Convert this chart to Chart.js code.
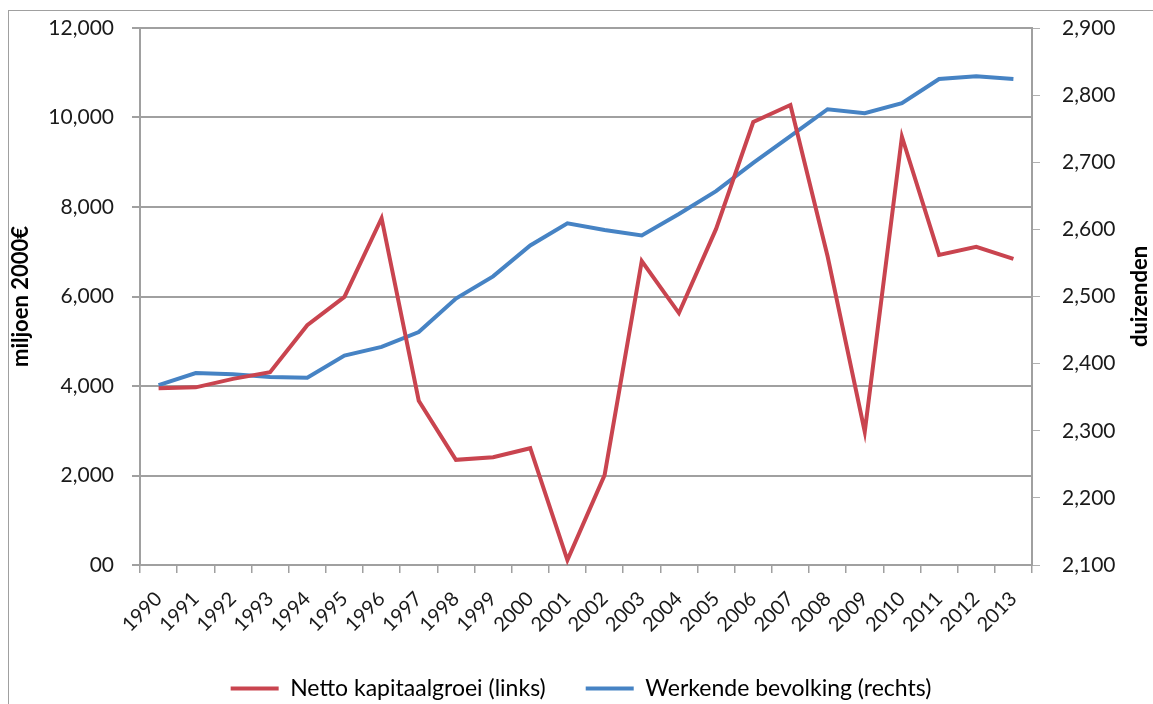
<!DOCTYPE html>
<html>
<head>
<meta charset="utf-8">
<script src="https://cdn.jsdelivr.net/npm/chart.js@4/dist/chart.umd.min.js"></script>
<style>
  body { margin: 0; background: #fff; }
  #frame {
    position: absolute; left: 8px; top: 10px;
    width: 1144px; height: 693px;
    border-left: 1px solid #a0a0a0; border-top: 1px solid #a0a0a0;
  }
</style>
</head>
<body>
<div id="frame"><canvas id="chart" width="1144" height="693"></canvas></div>
<script>
var years = ["1990","1991","1992","1993","1994","1995","1996","1997","1998","1999","2000","2001",
             "2002","2003","2004","2005","2006","2007","2008","2009","2010","2011","2012","2013"];
// miljoen 2000€ (linker as)
var kapitaalgroei = [3950, 3970, 4160, 4310, 5360, 5990, 7750, 3670, 2350, 2410, 2610, 110,
                     2010, 6790, 5630, 7510, 9900, 10280, 6900, 2980, 9570, 6930, 7110, 6840];
// duizenden (rechter as)
var werkendeBevolking = [2368, 2386, 2384, 2380, 2379, 2412, 2425, 2447, 2497, 2530, 2576, 2609,
                         2599, 2591, 2623, 2657, 2699, 2739, 2779, 2773, 2788, 2824, 2828, 2824];
var seriesNames = ["Netto kapitaalgroei (links)", "Werkende bevolking (rechts)"];
var leftTitle = "miljoen 2000€";
var rightTitle = "duizenden";

document.addEventListener("DOMContentLoaded", function () {
  Chart.defaults.font.family = "Lato";
  Chart.defaults.color = "#1a1a1a";

  var axisTitles = {
    id: "axisTitles",
    afterDraw: function (chart) {
      var ctx = chart.ctx;
      var area = chart.chartArea;
      var cy = (area.top + area.bottom) / 2;
      ctx.save();
      ctx.font = "bold 22px Lato";
      ctx.fillStyle = "#000";
      ctx.textAlign = "center";
      ctx.textBaseline = "middle";
      [[12, leftTitle], [1131, rightTitle]].forEach(function (t) {
        ctx.save();
        ctx.translate(t[0], cy);
        ctx.rotate(-Math.PI / 2);
        ctx.fillText(t[1], 0, 0);
        ctx.restore();
      });
      ctx.restore();
    }
  };

  // vaste breedte en bovenmarge voor de y-assen
  function fixY(width) {
    return function (scale) {
      scale.width = width;
      scale.paddingTop = 17;
    };
  }

  var ctx = document.getElementById("chart").getContext("2d");
  new Chart(ctx, {
    type: "line",
    data: {
      labels: years,
      datasets: [
        {
          label: seriesNames[0],
          data: kapitaalgroei,
          yAxisID: "y",
          borderColor: "#c9444f",
          backgroundColor: "#c9444f",
          borderWidth: 4,
          pointRadius: 0,
          tension: 0
        },
        {
          label: seriesNames[1],
          data: werkendeBevolking,
          yAxisID: "y1",
          borderColor: "#4683c4",
          backgroundColor: "#4683c4",
          borderWidth: 4,
          pointRadius: 0,
          tension: 0
        }
      ]
    },
    options: {
      responsive: false,
      animation: false,
      layout: { padding: { top: 0, bottom: -6 } },
      plugins: {
        tooltip: { enabled: false },
        legend: {
          position: "bottom",
          labels: {
            usePointStyle: true,
            pointStyle: "line",
            pointStyleWidth: 48,
            padding: 40,
            color: "#000",
            font: { size: 23 }
          }
        }
      },
      scales: {
        x: {
          offset: true,
          grid: { offset: true, drawOnChartArea: false, drawTicks: true, tickLength: 8, color: "#a0a0a0", lineWidth: 1.5 },
          border: { color: "#a0a0a0", width: 2 },
          ticks: { maxRotation: 45, minRotation: 45, autoSkip: false, padding: 14, color: "#1a1a1a", font: { size: 20 } },
          afterFit: function (scale) { scale.height = 72; }
        },
        y: {
          position: "left",
          min: 0,
          max: 12000,
          ticks: {
            stepSize: 2000,
            padding: 18,
            color: "#1a1a1a",
            font: { size: 21 },
            callback: function (v) { return v === 0 ? "00" : v.toLocaleString("en-US"); }
          },
          grid: { color: "#a0a0a0", lineWidth: 2, tickLength: 8 },
          border: { color: "#a0a0a0", width: 2 },
          afterFit: fixY(131)
        },
        y1: {
          position: "right",
          min: 2100,
          max: 2900,
          ticks: {
            stepSize: 100,
            padding: 22,
            color: "#1a1a1a",
            font: { size: 21 },
            callback: function (v) { return v.toLocaleString("en-US"); }
          },
          grid: { drawOnChartArea: false, drawTicks: true, tickLength: 8, color: "#b0b0b0" },
          border: { color: "#a0a0a0", width: 2 },
          afterFit: fixY(121)
        }
      }
    },
    plugins: [axisTitles]
  });
});
</script>
</body>
</html>
